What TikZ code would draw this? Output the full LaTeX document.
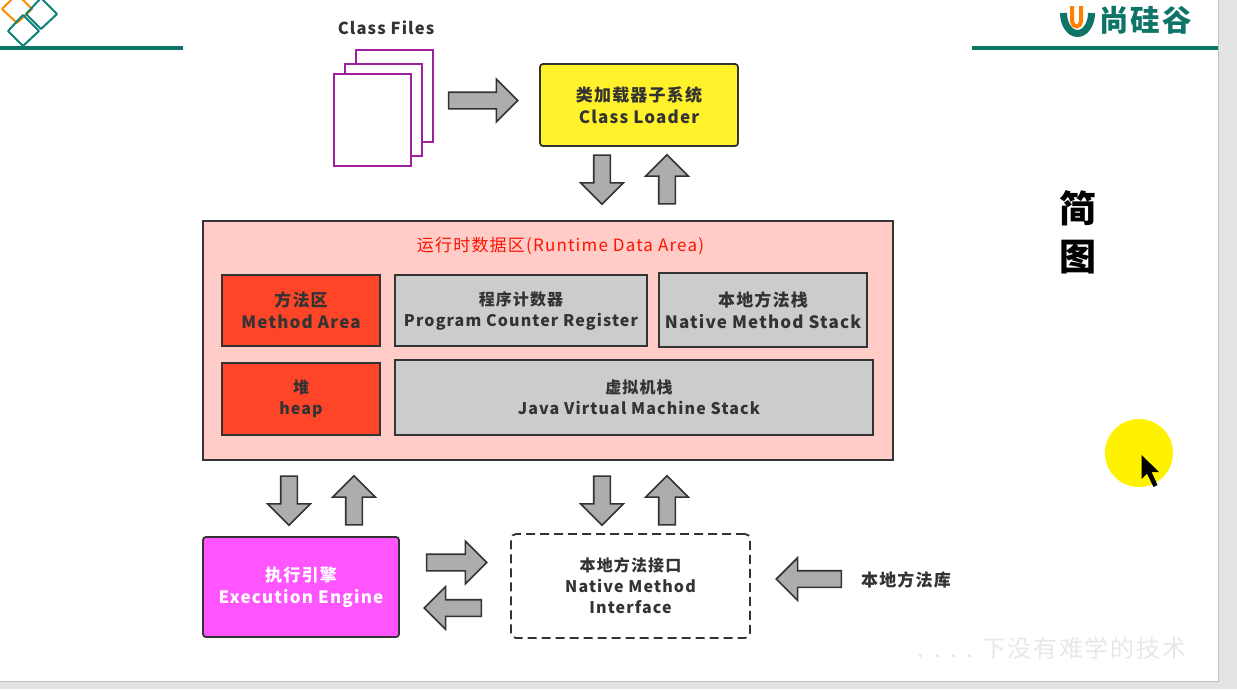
\documentclass[tikz,border=0pt]{standalone}
\usepackage{fontspec}
\usepackage{xcolor}
\usetikzlibrary {positioning,shapes.arrows}
\setmainfont[LetterSpace=7]{Noto Sans CJK SC}
\definecolor{brandteal}{HTML}{0F7468}
\definecolor{ink}{HTML}{333333}
\definecolor{filepurple}{HTML}{A01FA0}
\definecolor{loaderyellow}{HTML}{FFF22A}
\definecolor{memoryred}{HTML}{FF4527}
\definecolor{enginepink}{HTML}{FF55FF}
\definecolor{areapink}{HTML}{FFCCC8}
\definecolor{cursoryellow}{HTML}{FFF200}
\begin{document}
\begin{tikzpicture}
		[x=1pt,y=-1pt,
		box/.style={rectangle,draw=ink,line width=1.8pt,inner sep=0pt,align=center,text=ink,font=\fontsize{17}{22}\selectfont\bfseries},
		memory/.style={box,fill=memoryred},
		shared/.style={box,fill=black!20},
		small/.style={font=\fontsize{16}{21}\selectfont\bfseries},
		page/.style={rectangle,draw=filepurple,fill=white,line width=2pt,minimum width=77pt,minimum height=92pt},
		blockarrow/.style={single arrow,draw=ink,fill=black!32,line width=1.6pt,inner sep=0pt,text height=15pt,text depth=0pt,single arrow head extend=13pt,minimum width=42pt},
		right arrow/.style={blockarrow,xshift=-4.5pt},
		left arrow/.style={blockarrow,xshift=4.5pt,rotate=180},
		down arrow/.style={blockarrow,yshift=4pt,rotate=-90,minimum height=49pt},
		up arrow/.style={blockarrow,yshift=-8pt,rotate=90,minimum height=49pt},
		plain/.style={inner sep=0pt,text=ink,font=\fontsize{17}{17}\selectfont\bfseries},
		diamondline/.style={line width=2pt,rounded corners=0.5pt}]
		\useasboundingbox (0,0) rectangle (1237,689);
		\clip (0,0) rectangle (1237,689);
		\fill [black!11] (0,0) rectangle (1237,689);
		\fill [white] (0,0) rectangle (1218,681);
		\draw [black!25] (1218,0) -- (1218,681) -- (0,681);

		\draw [diamondline,draw=orange!90!yellow] (17,-6) -- (32,9) -- (17,23) -- (2,9) -- cycle;
		\draw [diamondline,draw=brandteal!90!cyan] (41,-2) -- (57,14) -- (41,29) -- (26,14) -- cycle;
		\draw [diamondline,draw=brandteal!90!cyan] (23,15) -- (39,31) -- (23,46) -- (8,31) -- cycle;
		\draw [brandteal,line width=4pt] (0,48) -- (183,48);
		\draw [brandteal,line width=4pt] (972,48) -- (1218,48);
		\draw [brandteal,line width=7pt] (1063.5,13) arc [start angle=180,end angle=360,x radius=14pt,y radius=20.5pt];
		\draw [orange,line width=4pt] (1072,6) -- (1072,21) arc [start angle=180,end angle=360,x radius=4.5pt,y radius=5.5pt] -- (1081,6);
		\node [inner sep=0pt,text=brandteal,font=\fontsize{29.5}{29}\selectfont\bfseries] (brand) at (1145.5,20) {尚硅谷};

		\node [plain,font=\fontsize{16.5}{17}\selectfont\bfseries] (files) at (386,28) {Class Files};
		\node [page] (page3) at (394,96) {};
		\node [page] (page2) at (383,110) {};
		\node [page] (page1) at (372,120) {};
		\node [right arrow,minimum height=69pt] (toloader) at (483.5,100.5) {};

		\node [box,fill=loaderyellow,rounded corners=3pt,minimum width=198pt,minimum height=82pt] (loader) at (639,105) {类加载器子系统\\Class Loader};
		\node [down arrow] (down1) at (602,179.5) {};
		\node [up arrow] (up1) [right=65pt of down1.center,anchor=center] {};

		\node [box,fill=areapink,minimum width=690pt,minimum height=239pt] (runtime) at (548,340.5) {};
		\node [inner sep=0pt,text=red!85!orange,font=\fontsize{17}{17}\selectfont] (title) at (560.5,246) {运行时数据区(Runtime Data Area)};
		\node [memory,minimum width=158pt,minimum height=71pt] (method) at (301,310.5) {方法区\\Method Area};
		\node [shared,small,minimum width=252pt,minimum height=71pt] (counter) at (521,310.5) {程序计数器\\Program Counter Register};
		\node [shared,minimum width=208pt,minimum height=74pt] (nativestack) at (763,310) {本地方法栈\\Native Method Stack};
		\node [memory,small,minimum width=158pt,minimum height=72pt] (heap) at (301,399) {堆\\heap};
		\node [shared,small,minimum width=478pt,minimum height=75pt] (vmstack) at (634,397.5) {\hspace*{10pt}虚拟机栈\\\hspace*{10pt}Java Virtual Machine Stack};

		\node [down arrow] (down2) at (289,500.5) {};
		\node [up arrow] (up2) [right=65pt of down2.center,anchor=center] {};
		\node [down arrow] (down3) at (602,500.5) {};
		\node [up arrow] (up3) [right=65pt of down3.center,anchor=center] {};

		\node [box,fill=enginepink,text=white,rounded corners=3pt,minimum width=196pt,minimum height=100pt] (engine) at (301,587) {执行引擎\\Execution Engine};
		\node [box,small,dash pattern=on 9pt off 5pt,rounded corners=5pt,minimum width=239pt,minimum height=104pt] (interface) at (630.5,586) {本地方法接口\\Native Method\\Interface};
		\node [right arrow,minimum height=60pt] (toright) at (457,562.5) {};
		\node [left arrow,minimum height=57pt] (toleft) at (452.5,608) {};
		\node [left arrow,minimum height=65pt] (fromlib) at (808.5,579) {};
		\node [plain] (library) at (906,580) {本地方法库};

		\node [inner sep=0pt,font=\fontsize{37}{37}\selectfont\bfseries] (brief1) at (1078,208) {简};
		\node [inner sep=0pt,font=\fontsize{37}{37}\selectfont\bfseries] (brief2) at (1078,257) {图};

		\fill [cursoryellow] (1139,453) circle [radius=34pt];
		\fill [black] (1141.5,455) -- (1141.5,479) -- (1147,473.5) -- (1153.5,487) -- (1157.5,485) -- (1151.5,472) -- (1159,472) -- cycle;
		\node [inner sep=0pt,text=black!9,font=\fontsize{24}{24}\selectfont] (motto) at (1052,648) {. . . . 下没有难学的技术};
	\end{tikzpicture}
\end{document}
